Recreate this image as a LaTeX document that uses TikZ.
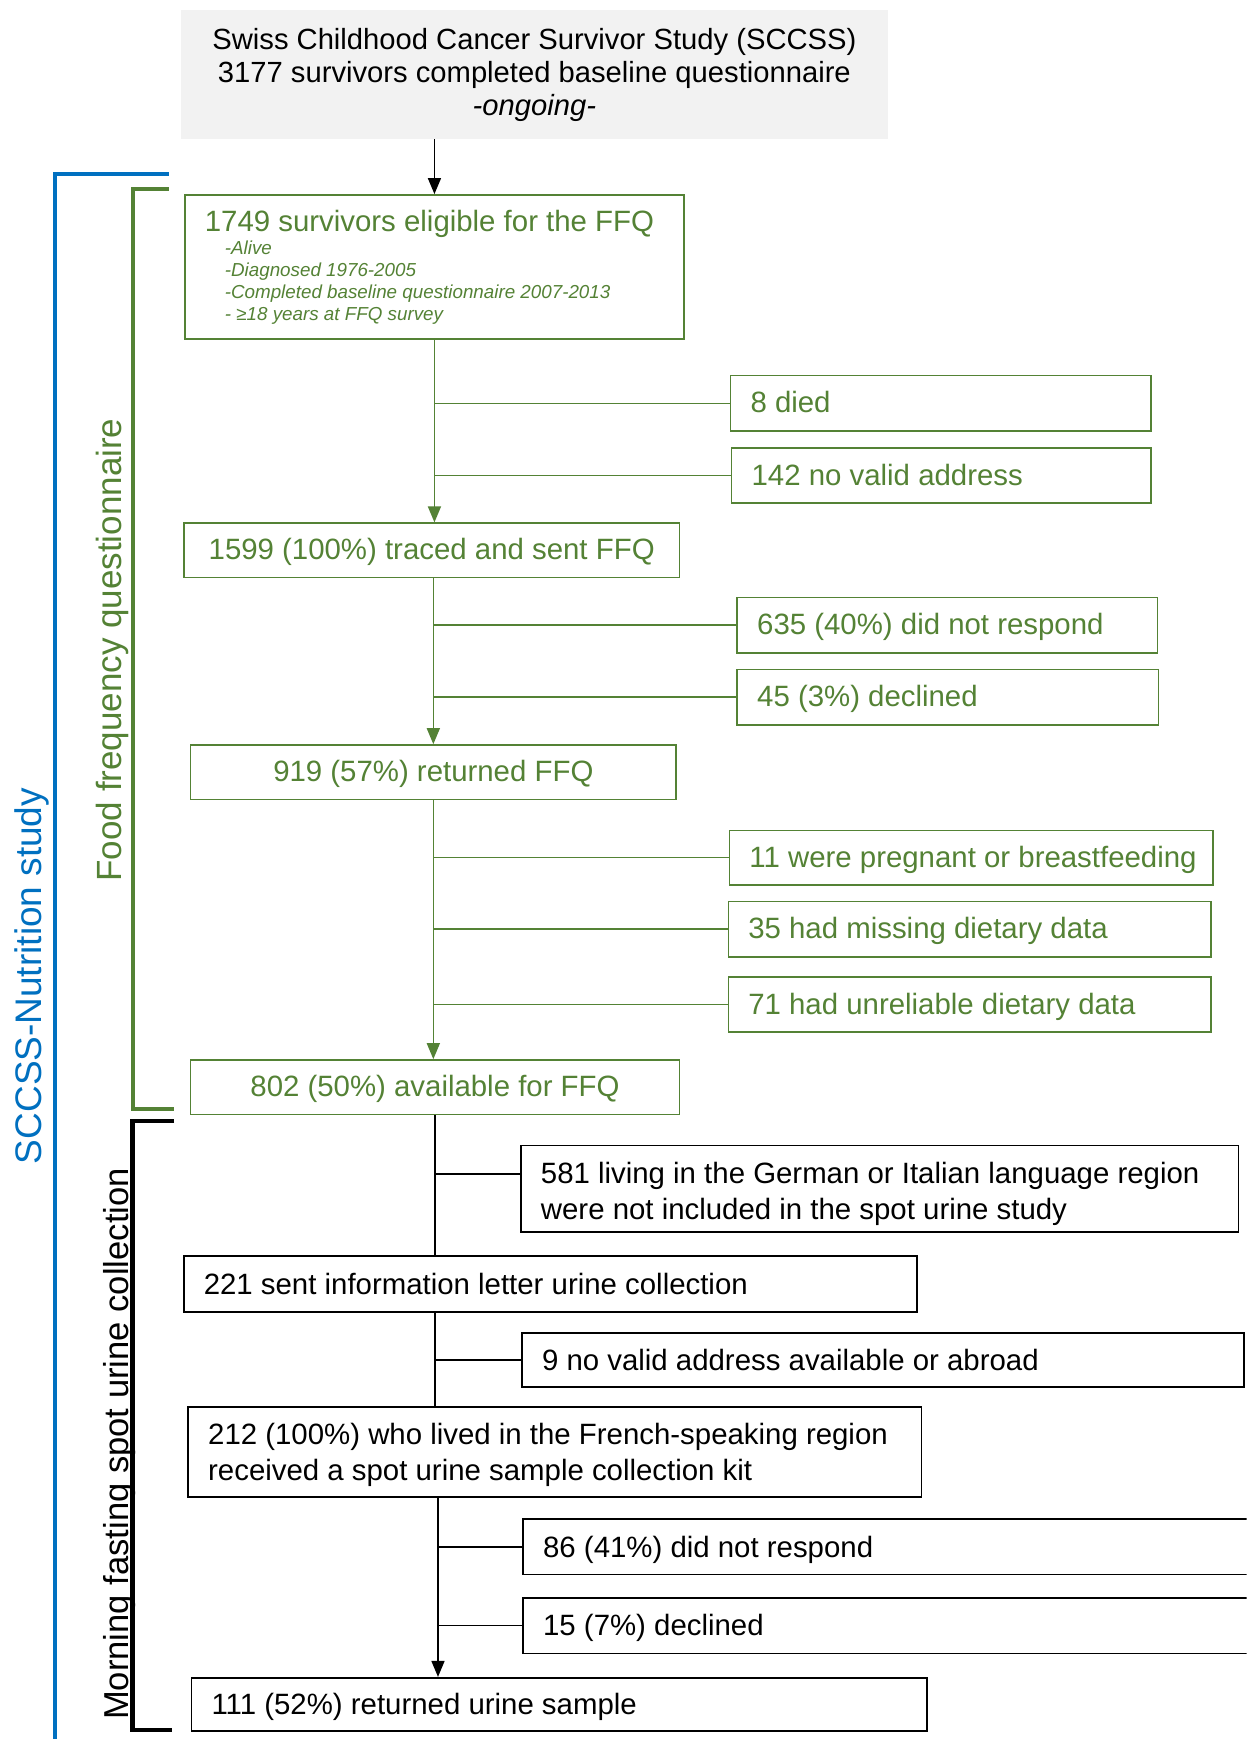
\documentclass[tikz,border=0pt]{standalone}
\usepackage{fontspec}
\setmainfont{Liberation Sans}
\usetikzlibrary{arrows.meta}
\definecolor{ffqgreen}{HTML}{548235}
\definecolor{nutblue}{HTML}{0070C0}
\definecolor{headgray}{HTML}{F2F2F2}
\newcommand\mainfs{\fontsize{14.7}{18}\selectfont}
\newcommand\blackfs{\fontsize{14.7}{18}\selectfont}
\newcommand\oneline[1]{\mbox{#1}}
\tikzset{
  sz/.code 2 args={\pgfmathsetlengthmacro\mybw{#1*0.5547pt}\pgfmathsetlengthmacro\mybh{#2*0.5547pt}\edef\mytmp{\noexpand\pgfkeysalso{/tikz/minimum width=\mybw,/tikz/minimum height=\mybh}}\mytmp},
  lft/.code={\pgfmathsetlengthmacro\mytw{(#1-36)*0.5547pt}\edef\mytmp{\noexpand\pgfkeysalso{/tikz/text width=\mytw,/tikz/align=flush left}}\mytmp},
  boxbase/.style={anchor=north west, inner ysep=0pt, inner xsep=9.985pt, line width=0.8pt},
  gbox/.style={boxbase, draw=ffqgreen, text=ffqgreen, font=\mainfs},
  kbox/.style={boxbase, draw=black, text=black, font=\blackfs},
  oneln/.style={text height=9.6pt, text depth=0pt},
  onelnk/.style={text height=10.4pt, text depth=0pt},
  twoln/.style={text height=11pt, text depth=#1},
  gline/.style={draw=ffqgreen, line width=0.8pt},
  kline/.style={draw=black, line width=0.8pt},
  arrowend/.style={-{Triangle[length=8pt,width=6.5pt]}},
  sidelabel/.style={rotate=90, anchor=base},
}
\begin{document}
\begin{tikzpicture}[x=0.5547pt, y=-0.5547pt]
\clip (0,0) rectangle (1124,1568);
\fill[white] (0,0) rectangle (1124,1568);

% header
\node[anchor=north west, fill=headgray, sz={637}{116}, align=center, inner sep=0pt,
      font=\fontsize{14.6}{16.6}\selectfont] (sccss) at (163,9)
  {Swiss Childhood Cancer Survivor Study (SCCSS)\\3177 survivors completed baseline questionnaire\\\textit{-ongoing-}};

% FFQ part
\node[gbox, sz={450}{130}, lft={450}] (elig) at (166,175)
  {\oneline{1749 survivors eligible for the FFQ}\par\vspace{0.8pt}
   {\fontsize{9.4}{10.9}\selectfont\itshape
   \hspace*{10pt}-Alive\\
   \hspace*{10pt}-Diagnosed 1976-2005\\
   \hspace*{10pt}\oneline{-Completed baseline questionnaire 2007-2013}\\
   \hspace*{10pt}- ≥18 years at FFQ survey\par}};
\node[gbox, oneln, sz={379}{50}, lft={379}] (died) at (658,338) {\oneline{8 died}};
\node[gbox, oneln, sz={378}{50}, lft={378}] (noaddr) at (659,403) {\oneline{142 no valid address}};
\node[gbox, oneln, sz={447}{49}] (traced) at (165,471) {1599 (100\%) traced and sent FFQ};
\node[gbox, oneln, sz={379}{50}, lft={379}] (nresp) at (664,538) {\oneline{635 (40\%) did not respond}};
\node[gbox, oneln, sz={380}{50}, lft={380}] (decl) at (664,603) {\oneline{45 (3\%) declined}};
\node[gbox, oneln, sz={438}{49}] (retffq) at (171,671) {919 (57\%) returned FFQ};
\node[gbox, oneln, sz={436}{49}, lft={436}] (preg) at (657,748) {\oneline{11 were pregnant or breastfeeding}};
\node[gbox, oneln, sz={435}{50}, lft={435}] (miss) at (656,812) {\oneline{35 had missing dietary data}};
\node[gbox, oneln, sz={435}{50}, lft={435}] (unrel) at (656,880) {\oneline{71 had unreliable dietary data}};
\node[gbox, oneln, sz={441}{49}] (avail) at (171,955) {802 (50\%) available for FFQ};

% urine part
\node[kbox, twoln=16pt, sz={647}{78}, lft={647}] (notincl) at (469,1032)
  {\oneline{581 living in the German or Italian language region}\\\oneline{were not included in the spot urine study}};
\node[kbox, onelnk, sz={661}{50}, lft={661}] (sent) at (165,1132) {\oneline{221 sent information letter urine collection}};
\node[kbox, onelnk, sz={651}{49}, lft={651}] (abroad) at (470,1201) {\oneline{9 no valid address available or abroad}};
\node[kbox, twoln=18.2pt, sz={661}{81}, lft={661}] (kit) at (169,1268)
  {\oneline{212 (100\%) who lived in the French-speaking region}\\\oneline{received a spot urine sample collection kit}};
\node[kbox, onelnk, sz={689}{50}, lft={689}] (nresp2) at (471,1369) {\oneline{86 (41\%) did not respond}};
\node[kbox, onelnk, sz={689}{50}, lft={689}] (decl2) at (471,1440) {\oneline{15 (7\%) declined}};
\node[kbox, onelnk, sz={663}{48}, lft={663}] (urine) at (172,1512) {\oneline{111 (52\%) returned urine sample}};

% connectors
\draw[kline, arrowend] (sccss.south -| elig.north) -- (elig.north);

\draw[gline, arrowend] (elig.south) -- (elig.south |- traced.north);
\draw[gline] (died.west) -- (died.west -| elig.south);
\draw[gline] (noaddr.west) -- (noaddr.west -| elig.south);

\draw[gline, arrowend] (retffq.north |- traced.south) -- (retffq.north);
\draw[gline] (nresp.west) -- (nresp.west -| retffq.north);
\draw[gline] (decl.west) -- (decl.west -| retffq.north);

\draw[gline, arrowend] (retffq.south) -- (retffq.south |- avail.north);
\draw[gline] (preg.west) -- (preg.west -| retffq.south);
\draw[gline] (miss.west) -- (miss.west -| retffq.south);
\draw[gline] (unrel.west) -- (unrel.west -| retffq.south);

\draw[kline] (avail.south) -- (avail.south |- sent.north);
\draw[kline] ([yshift=7.2pt]notincl.west) -- ([yshift=7.2pt]notincl.west -| avail.south);
\draw[kline] (avail.south |- sent.south) -- (avail.south |- kit.north);
\draw[kline] (abroad.west) -- (abroad.west -| avail.south);
\draw[kline, arrowend] ([xshift=1.5pt]avail.south |- kit.south) -- ([xshift=1.5pt]avail.south |- urine.north);
\draw[kline] (nresp2.west) -- ([xshift=1.5pt]nresp2.west -| avail.south);
\draw[kline] (decl2.west) -- ([xshift=1.5pt]decl2.west -| avail.south);

% brackets
\draw[nutblue, line width=2pt] (152,157) -- (49.6,157) -- (49.6,1580);
\draw[ffqgreen, line width=2pt] (152,170) -- (119.6,170) -- (119.6,999.5) -- (157,999.5);
\draw[black, line width=2.2pt] (157,1011) -- (119.6,1011) -- (119.6,1560) -- (155,1560);

% bracket labels
\node[sidelabel, text=nutblue, font=\fontsize{18.5}{20}\selectfont] (lnut) at (37.5,880) {SCCSS-Nutrition study};
\node[sidelabel, text=ffqgreen, font=\fontsize{17.5}{19}\selectfont] (lffq) at (110,586) {Food frequency questionnaire};
\node[sidelabel, text=black, font=\fontsize{17.3}{19}\selectfont] (lurine) at (115.6,1302) {Morning fasting spot urine collection};
\end{tikzpicture}
\end{document}
